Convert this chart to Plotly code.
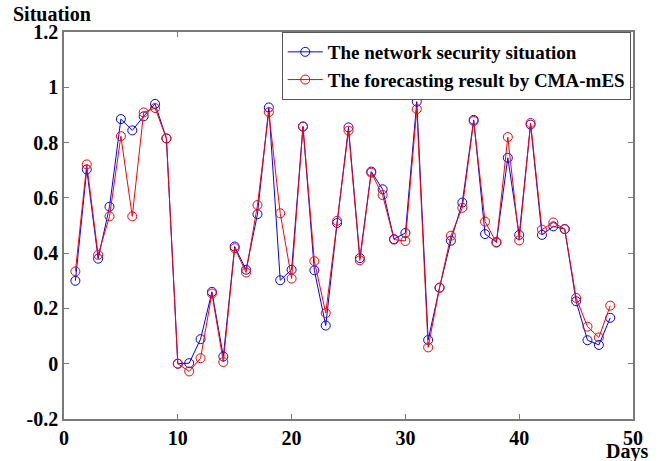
import plotly.graph_objects as go

# Day index for each observation
days = list(range(1, 49))

# Actual network security situation values
situation = [
    0.300, 0.703, 0.380, 0.568, 0.885, 0.844, 0.895, 0.940, 0.815, 0.000,
    0.002, 0.089, 0.260, 0.026, 0.424, 0.340, 0.541, 0.927, 0.302, 0.340,
    0.858, 0.338, 0.138, 0.509, 0.855, 0.382, 0.695, 0.631, 0.451, 0.473,
    0.948, 0.086, 0.275, 0.445, 0.583, 0.882, 0.469, 0.440, 0.745, 0.466,
    0.865, 0.466, 0.497, 0.487, 0.226, 0.085, 0.068, 0.166,
]

# Forecast produced by CMA-mES
forecast = [
    0.334, 0.721, 0.394, 0.533, 0.823, 0.533, 0.909, 0.925, 0.815, 0.000,
    -0.028, 0.020, 0.254, 0.006, 0.418, 0.330, 0.574, 0.910, 0.544, 0.308,
    0.858, 0.371, 0.183, 0.517, 0.843, 0.374, 0.691, 0.610, 0.449, 0.444,
    0.921, 0.059, 0.275, 0.463, 0.564, 0.878, 0.514, 0.438, 0.820, 0.446,
    0.871, 0.485, 0.511, 0.487, 0.238, 0.134, 0.095, 0.210,
]

y_tickvals = [-0.2, 0, 0.2, 0.4, 0.6, 0.8, 1.0, 1.2]
y_ticktext = ["-0.2", "0", "0.2", "0.4", "0.6", "0.8", "1", "1.2"]
x_tickvals = [0, 10, 20, 30, 40, 50]
x_ticktext = ["0", "10", "20", "30", "40", "50"]

serif = "Liberation Serif, Times New Roman, serif"
axis_grey = "#7a7a7a"
text_font = dict(family=serif, size=20, color="#000000", weight="bold")

fig = go.Figure()
fig.add_trace(go.Scatter(
    x=days, y=situation, mode="lines+markers",
    name="The network security situation",
    line=dict(color="#0000ff", width=1),
    marker=dict(symbol="circle-open", size=9, color="#0000ff", line=dict(width=1)),
))
fig.add_trace(go.Scatter(
    x=days, y=forecast, mode="lines+markers",
    name="The forecasting result by CMA-mES",
    line=dict(color="#ff0000", width=1),
    marker=dict(symbol="circle-open", size=9, color="#ff0000", line=dict(width=1)),
))

axis_common = dict(
    showgrid=False, zeroline=False, showline=True, linecolor=axis_grey, linewidth=1.5,
    mirror="ticks", ticks="inside", ticklen=5, tickcolor=axis_grey, tickwidth=1,
    tickfont=text_font,
)

fig.update_layout(
    width=660, height=461,
    margin=dict(l=64, r=27, t=32, b=40),
    paper_bgcolor="white", plot_bgcolor="white",
    showlegend=True,
    legend=dict(
        x=0.996, y=1.0, xanchor="right", yanchor="top",
        bgcolor="white", bordercolor="#555555", borderwidth=1,
        font=dict(family=serif, size=19, color="#000000", weight="bold"),
        itemwidth=35, tracegroupgap=0,
    ),
    xaxis=dict(range=[0, 50], tickvals=x_tickvals, ticktext=x_ticktext, **axis_common),
    yaxis=dict(range=[-0.2, 1.2], tickvals=y_tickvals, ticktext=y_ticktext, **axis_common),
    annotations=[
        dict(text="Situation", xref="paper", yref="paper", x=-0.021, y=1.0, yshift=18,
             xanchor="center", yanchor="middle", showarrow=False, font=text_font),
        dict(text="Days", xref="paper", yref="paper", x=0.989, y=0, yshift=-32,
             xanchor="center", yanchor="middle", showarrow=False, font=text_font),
    ],
)

fig.write_html("out.html")
